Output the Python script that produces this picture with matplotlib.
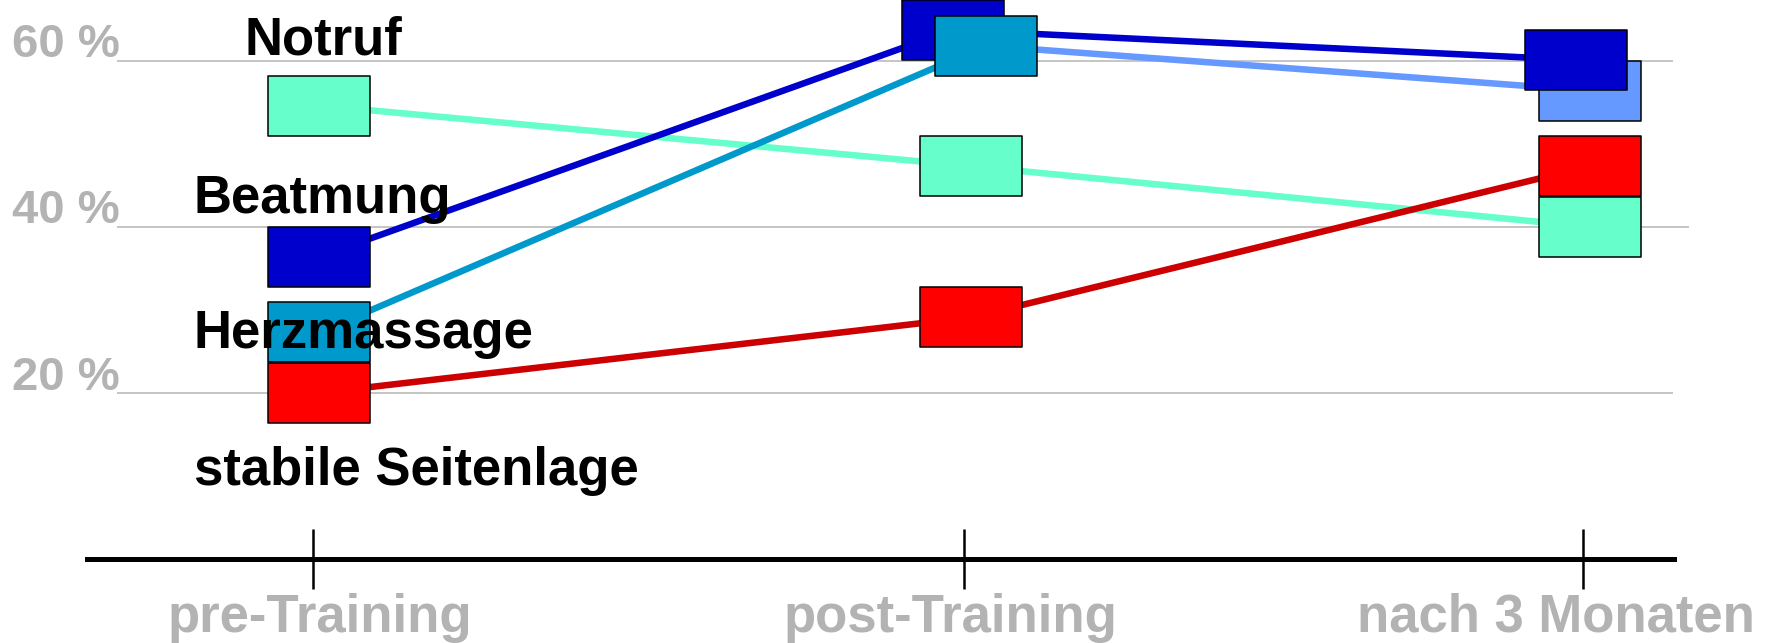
import matplotlib
matplotlib.use("Agg")
import matplotlib.pyplot as plt
from matplotlib.path import Path
from matplotlib import transforms

plt.rcParams['font.family'] = ['Liberation Sans', 'DejaVu Sans']
plt.rcParams['font.weight'] = 'bold'

# ---- data -------------------------------------------------------------
stages = ["pre-Training", "post-Training", "nach 3 Monaten"]
y_ticks = [20, 40, 60]
y_tick_labels = ["20 %", "40 %", "60 %"]

series_names = ["Notruf", "Beatmung", "Herzmassage", "stabile Seitenlage"]
notruf = [54.6, 47.3, 40.0]
beatmung = [36.4, 63.7, 60.1]
herzmassage = [27.3, 61.8, 56.4]
seitenlage = [20.0, 29.1, 47.3]
values = dict(zip(series_names, [notruf, beatmung, herzmassage, seitenlage]))

# ---- styling ----------------------------------------------------------
marker_colors = {
    "Notruf": ["#66FFCC", "#66FFCC", "#66FFCC"],
    "Beatmung": ["#0000CC", "#0000CC", "#0000CC"],
    "Herzmassage": ["#0099CC", "#0099CC", "#6699FF"],
    "stabile Seitenlage": ["#FF0000", "#FF0000", "#FF0000"],
}
segment_colors = {
    "Notruf": ["#66FFCC", "#66FFCC"],
    "Beatmung": ["#0000CC", "#0000CC"],
    "Herzmassage": ["#0099CC", "#6699FF"],
    "stabile Seitenlage": ["#CC0000", "#CC0000"],
}
# horizontal placement of the stages and small per-series shifts
stage_x = [0.0, 1.0, 1.952]
shift = {
    "Notruf": [0.010, 0.012, 0.010],
    "Beatmung": [0.010, -0.017, -0.011],
    "Herzmassage": [0.010, 0.034, 0.010],
    "stabile Seitenlage": [0.010, 0.012, 0.010],
}
marker_z = {
    "Notruf": [3, 3, 3],
    "Beatmung": [3, 3, 3.6],
    "Herzmassage": [3, 3.5, 3],
    "stabile Seitenlage": [3, 3, 3],
}
label_pos = {
    "Notruf": (-0.1045, 60.8),
    "Beatmung": (-0.183, 41.7),
    "Herzmassage": (-0.183, 25.4),
    "stabile Seitenlage": (-0.183, 8.9),
}
stage_label_shift_px = [7, -13, -27]

gray_text = "#B3B3B3"
grid_color = "#C0C0C0"

# wide rectangular marker
rect = Path([(-1, -0.59), (1, -0.59), (1, 0.59), (-1, 0.59), (-1, -0.59)],
            [Path.MOVETO, Path.LINETO, Path.LINETO, Path.LINETO, Path.CLOSEPOLY])

fig = plt.figure(figsize=(17.71, 6.43), dpi=100)
ax = fig.add_axes([0, 0, 1, 1])
ax.set_xlim(-0.481, 2.2407)
ax.set_ylim(-10.11, 67.31)

# gridlines and y labels
for yv, lab in zip(y_ticks, y_tick_labels):
    xmax = 2.115 if yv == 40 else 2.090
    ax.hlines(yv, -0.301, xmax, color=grid_color, lw=1.3, zorder=1)
    ax.text(-0.2966, yv + 0.4, lab, ha='right', va='baseline', fontsize=34,
            color=gray_text, fontweight='bold')

# x axis
for side in ("left", "right", "top"):
    ax.spines[side].set_visible(False)
ax.spines["bottom"].set_position(("data", 0))
ax.spines["bottom"].set_bounds(-0.347, 2.0916)
ax.spines["bottom"].set_linewidth(3.6)
ax.set_yticks([])
ax.set_xticks(stage_x)
ax.set_xticklabels(stages)
ax.tick_params(axis='x', direction='inout', length=42.5, width=1.8,
               color='black', pad=3, labelsize=38, labelcolor=gray_text)
for lbl, dx in zip(ax.get_xticklabels(), stage_label_shift_px):
    lbl.set_fontweight('bold')
    lbl.set_transform(lbl.get_transform() +
                      transforms.ScaledTranslation(dx / 100, 0, fig.dpi_scale_trans))

# connecting lines
for name in series_names:
    xs = [sx + d for sx, d in zip(stage_x, shift[name])]
    ys = values[name]
    for i in range(len(xs) - 1):
        ax.plot(xs[i:i + 2], ys[i:i + 2], color=segment_colors[name][i],
                lw=4.7, solid_capstyle='butt', zorder=2)

# markers
for name in series_names:
    for i, (sx, d) in enumerate(zip(stage_x, shift[name])):
        ax.plot([sx + d], [values[name][i]], ls='none', marker=rect,
                markersize=74, markerfacecolor=marker_colors[name][i],
                markeredgecolor='black', markeredgewidth=1.1,
                zorder=marker_z[name][i])

# series labels
for name in series_names:
    lx, ly = label_pos[name]
    ax.text(lx, ly, name, ha='left', va='baseline', fontsize=38,
            fontweight='bold', color='black', zorder=6)

fig.savefig("out.png", dpi=100)
